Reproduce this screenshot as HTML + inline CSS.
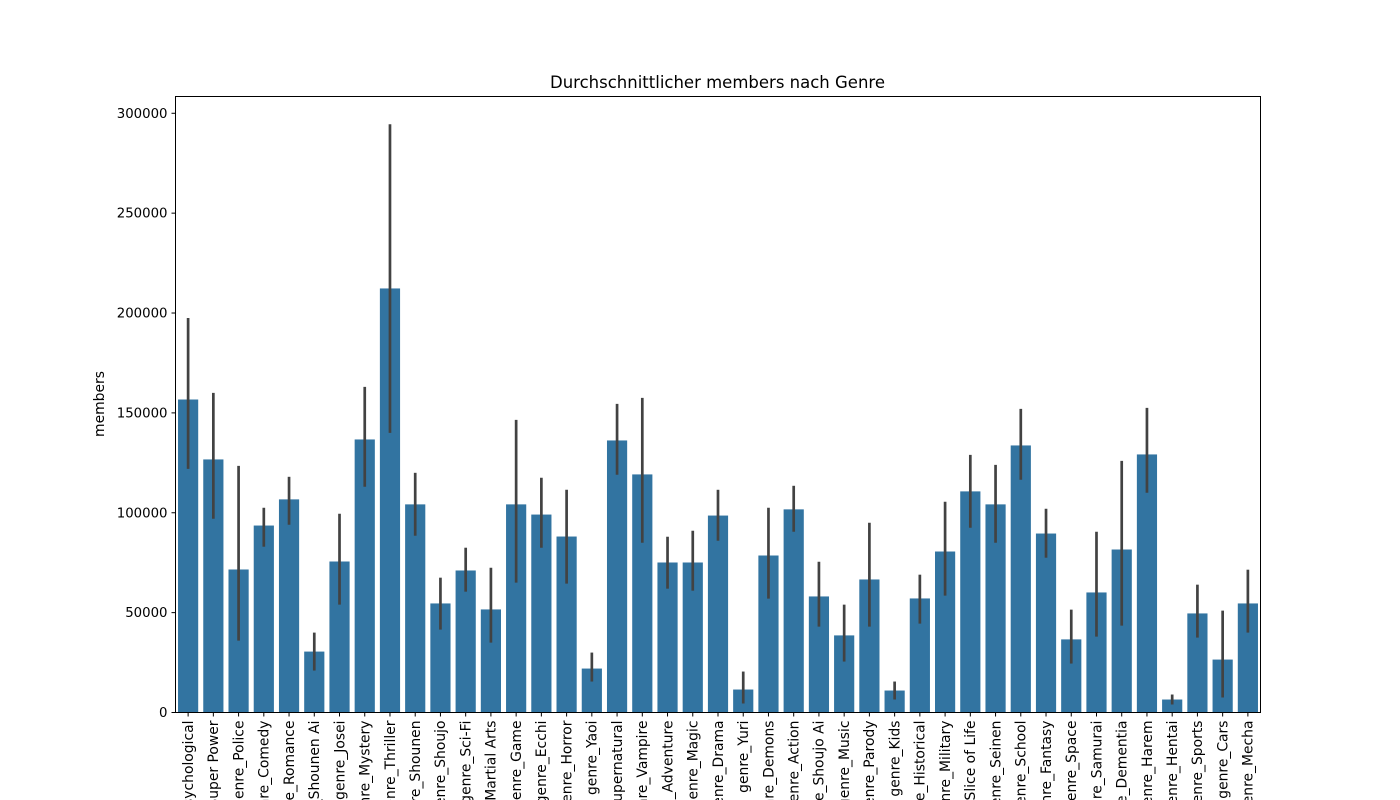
<!DOCTYPE html>
<html><head><meta charset="utf-8"><style>
html,body{margin:0;background:#fff;width:1400px;height:800px;overflow:hidden;}
svg{display:block;overflow:hidden;}
svg text{font-family:"DejaVu Sans","Liberation Sans",sans-serif;}
</style></head><body>
<svg id="chart" width="1400" height="800" xmlns="http://www.w3.org/2000/svg">
<defs><clipPath id="frameclip"><rect x="0" y="0" width="1400" height="800"/></clipPath></defs>
<rect width="1400" height="800" fill="#fff"/>
<text x="717.5" y="88" text-anchor="middle" font-size="16.5">Durchschnittlicher members nach Genre</text>
<text transform="translate(104,404) rotate(-90)" text-anchor="middle" font-size="13.9">members</text>
<g id="bars"></g><g id="errs"></g><g id="yt"></g><g id="xt" clip-path="url(#frameclip)"></g>
<rect x="175.5" y="96.5" width="1085" height="616" fill="none" stroke="#000" stroke-width="1"/>
</svg>
<script>
const categories=["Psychological","Super Power","Police","Comedy","Romance","Shounen Ai","Josei","Mystery","Thriller","Shounen","Shoujo","Sci-Fi","Martial Arts","Game","Ecchi","Horror","Yaoi","Supernatural","Vampire","Adventure","Magic","Drama","Yuri","Demons","Action","Shoujo Ai","Music","Parody","Kids","Historical","Military","Slice of Life","Seinen","School","Fantasy","Space","Samurai","Dementia","Harem","Hentai","Sports","Cars","Mecha"];
const means=[156700,126700,71600,93600,106700,30500,75600,136700,212300,104200,54600,71100,51600,104200,99100,88100,22000,136200,119200,75100,75100,98600,11500,78600,101700,58100,38600,66600,11000,57100,80600,110700,104200,133700,89600,36600,60100,81600,129200,6500,49600,26500,54600];
const errLow=[122000,97000,36000,83000,94000,21000,54000,113000,140000,88500,41500,60500,35000,65000,82500,64500,15500,119000,85000,62000,61000,86000,4500,57000,90500,43000,25500,43000,6500,44500,58500,92500,85000,116500,77500,24500,38000,43500,110000,4000,37500,7500,40000];
const errHigh=[197500,160000,123500,102500,118000,40000,99500,163000,294500,120000,67500,82500,72500,146500,117500,111500,30000,154500,157500,88000,91000,111500,20500,102500,113500,75500,54000,95000,15500,69000,105500,129000,124000,152000,102000,51500,90500,126000,152500,9000,64000,51000,71500];
const yTicks=[0,50000,100000,150000,200000,250000,300000];
const L=175.5,R=1260.5,T=96.5,B=712.5,YMAX=308400;
const y=v=>B-(v/YMAX)*(B-T);
const step=(R-L)/categories.length;
const x=i=>L+step*(i+0.5);
const NS="http://www.w3.org/2000/svg";
function mk(t,a,p){const e=document.createElementNS(NS,t);for(const k in a)e.setAttribute(k,a[k]);p.appendChild(e);return e;}
const bars=document.getElementById('bars'),errs=document.getElementById('errs'),yt=document.getElementById('yt'),xt=document.getElementById('xt');
categories.forEach((c,i)=>{
 const w=step*0.8;
 const r=mk('rect',{x:x(i)-w/2,y:y(means[i]),width:w,height:B-y(means[i]),fill:'#3274a1'},bars);
 
 
 const l=mk('line',{x1:x(i),x2:x(i),y1:y(errLow[i]),y2:y(errHigh[i]),stroke:'#424242','stroke-width':2.7},errs);
 
 
 mk('line',{x1:x(i),x2:x(i),y1:B,y2:B+4,stroke:'#000'},xt);
 const t=mk('text',{transform:`translate(${x(i)+4.8},${B+8}) rotate(-90)`,'text-anchor':'end','font-size':13.9},xt);
 t.textContent='genre_'+c;
 
 
});
yTicks.forEach(v=>{
 mk('line',{x1:L-4,x2:L,y1:y(v),y2:y(v),stroke:'#000'},yt);
 const t=mk('text',{x:L-8,y:y(v)+4.5,'text-anchor':'end','font-size':13.3},yt);
 t.textContent=v;
 
 
});
</script>
</body></html>
